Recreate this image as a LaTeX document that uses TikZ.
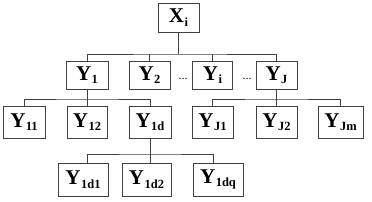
\documentclass[tikz,border=0pt]{standalone}
\usepackage{fontspec}
\setmainfont{Liberation Serif}
\usetikzlibrary{positioning}
\newcommand{\lbl}[2]{#1\kern0.5pt\raisebox{-3.5pt}{\fontsize{12.5}{12}\selectfont #2}}

\begin{document}
\begin{tikzpicture}[
    x=1pt, y=-1pt,
    font=\fontsize{21}{24}\selectfont\bfseries,
    treebox/.style={draw=black!75, line width=0.9pt, fill=white, inner sep=0pt, minimum height=28pt},
    lowbox/.style={treebox, minimum height=32pt},
    link/.style={draw=black!75, line width=0.9pt},
    gapdots/.style={font=\fontsize{12}{12}\selectfont, inner sep=0pt}
]
\useasboundingbox (0,0) rectangle (372,201);

\node[treebox, minimum width=41pt, minimum height=29pt] (xi) at (178.5,17.5) {\lbl{X}{i}};

\node[treebox, minimum width=42pt] (y1) at (87,75) {\lbl{Y}{1}};
\node[treebox, minimum width=41pt] (y2) at (149.5,75) {\lbl{Y}{2}};
\node[treebox, minimum width=40pt] (yi) at (212.5,75) {\lbl{Y}{i}};
\node[treebox, minimum width=41pt] (yj) at (276.5,75) {\lbl{Y}{J}};
\node[gapdots] (dots1) at (183,79) {...};
\node[gapdots] (dots2) at (247,79) {...};

\node[lowbox, minimum width=42pt] (y11) at (24,122) {\lbl{Y}{11}};
\node[lowbox, minimum width=40pt] (y12) at (87,122) {\lbl{Y}{12}};
\node[lowbox, minimum width=42pt] (y1d) at (150,122) {\lbl{Y}{1d}};
\node[lowbox, minimum width=41pt] (yj1) at (212.5,122) {\lbl{Y}{J1}};
\node[lowbox, minimum width=41pt] (yj2) at (276.5,122) {\lbl{Y}{J2}};
\node[lowbox, minimum width=45pt] (yjm) at (340.5,122) {\lbl{Y}{Jm}};

\node[lowbox, minimum width=50pt, minimum height=33pt] (y1d1) at (83,179.5) {\lbl{Y}{1d1}};
\node[lowbox, minimum width=49pt, minimum height=33pt] (y1d2) at (146.5,179.5) {\lbl{Y}{1d2}};
\node[lowbox, minimum width=50pt, minimum height=33pt] (y1dq) at (218,179.5) {\lbl{Y}{1dq}};

% first level
\coordinate (bus1) at (178.5,54);
\draw[link] (xi) -- (bus1);
\draw[link] (y1.north) |- (bus1) -| (yj.north);
\draw[link] (y2.north) -- (y2.north |- bus1);
\draw[link] (yi.north) -- (yi.north |- bus1);

% second level
\coordinate (bus2l) at (87,99);
\coordinate (bus2r) at (276.5,99);
\draw[link] (y1) -- (y12);
\draw[link] (y11.north) |- (bus2l) -| (y1d.north);
\draw[link] (yj) -- (yj2);
\draw[link] (yj1.north) |- (bus2r) -| (yjm.north);

% third level
\coordinate (bus3) at (150,154);
\draw[link] (y1d.south) -- ([xshift=3.5pt]y1d2.north);
\draw[link] ([xshift=4pt]y1d1.north) |- (bus3) -| ([xshift=-5pt]y1dq.north);

\end{tikzpicture}
\end{document}
